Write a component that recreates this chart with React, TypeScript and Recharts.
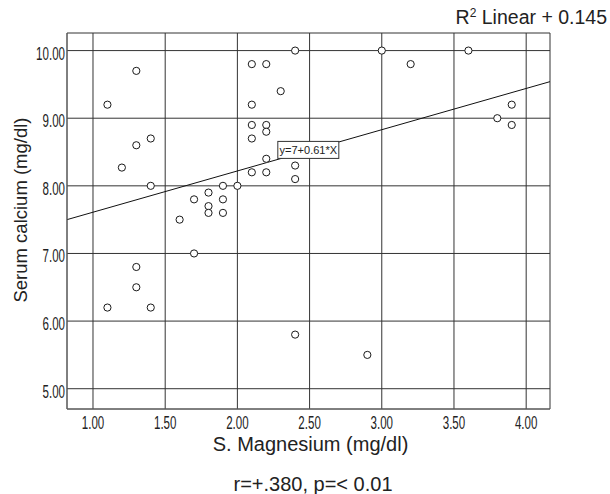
import {
  CartesianGrid,
  ReferenceDot,
  ReferenceLine,
  Scatter,
  ScatterChart,
  XAxis,
  YAxis,
} from "recharts"

// S. Magnesium (mg/dl) vs serum calcium (mg/dl), one entry per patient
const magnesium = [
  1.1, 1.3, 1.4, 1.3, 1.2, 1.4, 1.3, 1.3, 1.1, 1.4,
  1.6, 1.7, 1.7, 1.8, 1.8, 1.8, 1.9, 1.9, 1.9, 2.0,
  2.1, 2.2, 2.1, 2.3, 2.1, 2.2, 2.2, 2.1, 2.2, 2.1,
  2.2, 2.4, 2.4, 2.4, 2.4, 2.9, 3.0, 3.2, 3.6, 3.8,
  3.9, 3.9,
]
const calcium = [
  9.2, 9.7, 8.7, 8.6, 8.27, 8.0, 6.8, 6.5, 6.2, 6.2,
  7.5, 7.8, 7.0, 7.9, 7.7, 7.6, 8.0, 7.8, 7.6, 8.0,
  9.8, 9.8, 9.2, 9.4, 8.9, 8.9, 8.8, 8.7, 8.4, 8.2,
  8.2, 10.0, 8.3, 8.1, 5.8, 5.5, 10.0, 9.8, 10.0, 9.0,
  9.2, 8.9,
]

const xTicks = [1, 1.5, 2, 2.5, 3, 3.5, 4]
const yTicks = [5, 6, 7, 8, 9, 10]
const xDomain = [0.82, 4.165]
const yDomain = [4.7, 10.26]

// fit line y = 7 + 0.61 * X
const fitIntercept = 7
const fitSlope = 0.61
const fitLabelX = 2.28

const points = magnesium.map((mg, i) => ({ mg, ca: calcium[i] }))
const fitAt = (x: number) => fitIntercept + fitSlope * x

const font = '"Liberation Sans", Arial, sans-serif'
const ink = "#222"

function AxisTick({ x, y, payload, side }: any) {
  const dy = side === "left" ? 9 : 19.5
  return (
    <g transform={`translate(${x},${y + dy}) scale(0.68,1.1)`}>
      <text
        x={0}
        y={0}
        textAnchor={side === "left" ? "end" : "middle"}
        fontSize={17}
        fontFamily={font}
        fill={ink}
      >
        {Number(payload.value).toFixed(2)}
      </text>
    </g>
  )
}

function Dot({ cx, cy }: any) {
  return <circle cx={cx} cy={cy} r={3.6} fill="#fff" stroke="#1a1a1a" strokeWidth={1} />
}

function EquationBox({ cx, cy }: any) {
  return (
    <g>
      <rect x={cx} y={cy - 18} width={61} height={17} fill="#fff" stroke="#333" strokeWidth={1} />
      <text x={cx + 30.5} y={cy - 5.5} textAnchor="middle" fontSize={11} fontFamily={font} fill={ink}>
        y=7+0.61*X
      </text>
    </g>
  )
}

export default function App() {
  return (
    <div style={{ position: "relative", width: 610, height: 494, background: "#fff" }}>
      <style>{`body{margin:0}`}</style>
      <ScatterChart width={610} height={494} margin={{ top: 33, right: 60, bottom: 0, left: 0 }}>
        <CartesianGrid stroke="#333" strokeWidth={1} />
        <XAxis
          type="number"
          dataKey="mg"
          domain={xDomain}
          ticks={xTicks}
          allowDataOverflow
          height={85}
          tickLine={false}
          tickSize={0}
          tickMargin={0}
          axisLine={{ stroke: "#666" }}
          tick={<AxisTick side="bottom" />}
          label={({ viewBox }: any) => (
            <text
              x={viewBox.x + viewBox.width / 2 + 2}
              y={viewBox.y + 42}
              textAnchor="middle"
              fontSize={20}
              fontFamily={font}
              fill={ink}
            >
              S. Magnesium (mg/dl)
            </text>
          )}
        />
        <YAxis
          type="number"
          dataKey="ca"
          domain={yDomain}
          ticks={yTicks}
          allowDataOverflow
          width={67}
          tickLine={false}
          tickSize={0}
          tickMargin={2}
          axisLine={{ stroke: "#666" }}
          tick={<AxisTick side="left" />}
          label={({ viewBox }: any) => (
            <text
              transform={`translate(27,${viewBox.y + viewBox.height / 2 - 11}) rotate(-90)`}
              textAnchor="middle"
              fontSize={18.5}
              fontFamily={font}
              fill={ink}
            >
              Serum calcium (mg/dl)
            </text>
          )}
        />
        <ReferenceLine
          segment={[
            { x: xDomain[0], y: fitAt(xDomain[0]) },
            { x: xDomain[1], y: fitAt(xDomain[1]) },
          ]}
          stroke="#111"
          strokeWidth={1}
        />
        <Scatter data={points} shape={<Dot />} isAnimationActive={false} />
        <ReferenceDot x={fitLabelX} y={fitAt(fitLabelX)} r={0} shape={<EquationBox />} />
      </ScatterChart>
      <svg
        width={610}
        height={494}
        style={{ position: "absolute", left: 0, top: 0, pointerEvents: "none" }}
      >
        <text x={607} y={24} textAnchor="end" fontSize={19.5} fontFamily={font} fill={ink}>
          R
          <tspan fontSize={12} dy={-7}>2</tspan>
          <tspan dy={7}> Linear + 0.145</tspan>
        </text>
        <text x={313} y={491} textAnchor="middle" fontSize={20} fontFamily={font} fill={ink}>
          r=+.380, p=&lt; 0.01
        </text>
      </svg>
    </div>
  )
}
